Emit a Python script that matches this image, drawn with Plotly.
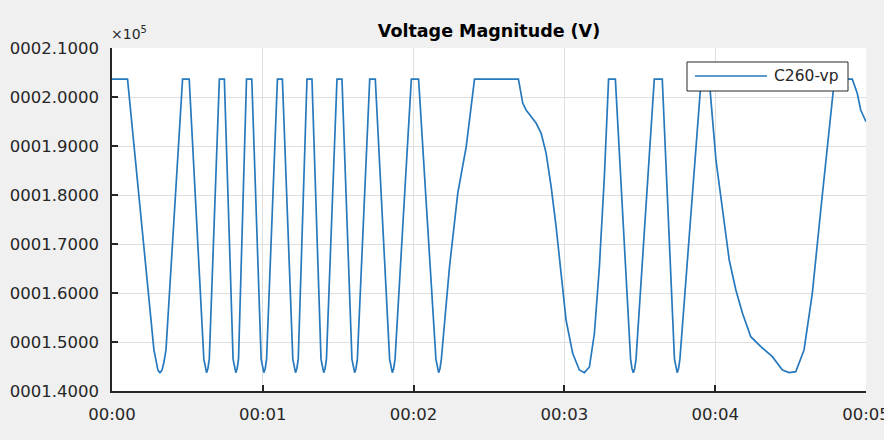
import plotly.graph_objects as go

# ---- data (time in seconds, voltage in V) ----
time_s = [
    0.000, 0.103, 0.278, 0.292, 0.305, 0.318, 0.331, 0.344, 0.358, 0.468, 0.512,
    0.609, 0.618, 0.627, 0.636, 0.645, 0.712, 0.745,
    0.803, 0.812, 0.821, 0.830, 0.839, 0.892, 0.927,
    0.989, 0.998, 1.007, 1.016, 1.025, 1.097, 1.130,
    1.199, 1.208, 1.217, 1.226, 1.235, 1.293, 1.326,
    1.386, 1.395, 1.404, 1.413, 1.422, 1.492, 1.525,
    1.591, 1.600, 1.609, 1.618, 1.627, 1.709, 1.746,
    1.841, 1.850, 1.859, 1.868, 1.877, 1.985, 2.033,
    2.148, 2.157, 2.166, 2.175, 2.184, 2.238, 2.293, 2.349, 2.404, 2.695,
    2.724, 2.746, 2.813, 2.846, 2.879, 2.912, 2.945, 2.978, 3.011, 3.055,
    3.099, 3.132, 3.166, 3.199, 3.232, 3.265, 3.293, 3.338,
    3.439, 3.448, 3.457, 3.466, 3.475, 3.596, 3.649,
    3.730, 3.739, 3.748, 3.757, 3.766, 3.907, 3.960,
    4.005, 4.048, 4.093, 4.137, 4.181, 4.236, 4.303, 4.379, 4.446, 4.490,
    4.534, 4.589, 4.644, 4.700, 4.744, 4.781, 4.791, 4.909, 4.942, 4.965, 5.000,
]
voltage_v = [
    203650, 203650, 148400, 145800, 144200, 143750, 144200, 145800, 148400, 203650, 203650,
    146500, 144600, 143750, 144600, 146500, 203650, 203650,
    146500, 144600, 143750, 144600, 146500, 203650, 203650,
    146500, 144600, 143750, 144600, 146500, 203650, 203650,
    146500, 144600, 143750, 144600, 146500, 203650, 203650,
    146500, 144600, 143750, 144600, 146500, 203650, 203650,
    146500, 144600, 143750, 144600, 146500, 203650, 203650,
    146500, 144600, 143750, 144600, 146500, 203650, 203650,
    146500, 144600, 143750, 144600, 146500, 165300, 180400, 189860, 203650, 203650,
    198710, 197350, 194630, 192590, 188510, 181690, 173530, 164020, 154490, 147690,
    144290, 143750, 144900, 151780, 165370, 183730, 203650, 203650,
    146500, 144600, 143750, 144600, 146500, 203650, 203650,
    146500, 144600, 143750, 144600, 146500, 203650, 203650,
    187140, 176940, 166730, 160610, 155860, 151080, 149040, 147000, 144290, 143750,
    143940, 148370, 159940, 176940, 190550, 201430, 203650, 203650, 200750, 197350, 194960,
]
series_name = "C260-vp"
chart_title = "Voltage Magnitude (V)"

x_tick_vals = [0, 1, 2, 3, 4, 5]
x_tick_text = ["00:00", "00:01", "00:02", "00:03", "00:04", "00:05"]
y_tick_vals = [140000, 150000, 160000, 170000, 180000, 190000, 200000, 210000]
y_tick_text = ["0001.4000", "0001.5000", "0001.6000", "0001.7000",
               "0001.8000", "0001.9000", "0002.0000", "0002.1000"]

# ---- styling ----
FONT = "DejaVu Sans"
LINE_COLOR = "#2679BD"
AX_COLOR = "#262626"
GRID_COLOR = "#DFDFDF"

fig = go.Figure()
fig.add_trace(go.Scatter(
    x=time_s, y=voltage_v, mode="lines", name=series_name,
    line=dict(color=LINE_COLOR, width=1.7), showlegend=False,
))

fig.update_layout(
    width=884, height=440,
    margin=dict(l=112, r=18, t=48, b=49, autoexpand=False),
    paper_bgcolor="#F0F0F0", plot_bgcolor="white",
    font=dict(family=FONT, color=AX_COLOR, size=16),
    title=dict(text="<b>" + chart_title + "</b>", x=0.5, xref="paper",
               y=1 - 31 / 440, yref="container", yanchor="middle",
               xanchor="center", font=dict(size=17.5, color="black", family=FONT)),
    xaxis=dict(range=[0, 5], tickvals=x_tick_vals, ticktext=x_tick_text,
               automargin=False,
               showgrid=True, gridcolor=GRID_COLOR, gridwidth=1, zeroline=False,
               showline=True, linecolor=AX_COLOR, linewidth=1.5,
               ticks="inside", ticklen=6, tickwidth=1.5, tickcolor=AX_COLOR,
               tickfont=dict(size=16.5, color=AX_COLOR), ticklabelstandoff=7,
               ticklabeloverflow="allow"),
    yaxis=dict(range=[140000, 210000], tickvals=y_tick_vals, ticktext=y_tick_text,
               automargin=False,
               showgrid=True, gridcolor=GRID_COLOR, gridwidth=1, zeroline=False,
               showline=True, linecolor=AX_COLOR, linewidth=1.5,
               ticks="inside", ticklen=6, tickwidth=1.5, tickcolor=AX_COLOR,
               tickfont=dict(size=16.5, color=AX_COLOR), ticklabelstandoff=8,
               ticklabeloverflow="allow"),
)

# exponent label
fig.add_annotation(text="×10<sup>5</sup>", xref="paper", yref="paper",
                   x=0.0, y=(391 - 33) / 343, xanchor="left", yanchor="middle",
                   xshift=-3, showarrow=False,
                   font=dict(size=14, color=AX_COLOR, family=FONT))

# legend box (MATLAB style)
lx0, lx1 = (687 - 112) / 754, (848 - 112) / 754
ly0, ly1 = (391 - 91) / 343, (391 - 62) / 343
ly_mid = (391 - 76) / 343
fig.add_shape(type="rect", xref="paper", yref="paper", x0=lx0, x1=lx1, y0=ly0, y1=ly1,
              fillcolor="white", line=dict(color=AX_COLOR, width=1), layer="above")
fig.add_shape(type="line", xref="paper", yref="paper",
              x0=(695 - 112) / 754, x1=(767 - 112) / 754, y0=ly_mid, y1=ly_mid,
              line=dict(color=LINE_COLOR, width=1.7), layer="above")
fig.add_annotation(text=series_name, xref="paper", yref="paper",
                   x=(772 - 112) / 754, y=ly_mid, xanchor="left", yanchor="middle",
                   showarrow=False, font=dict(size=15.5, color=AX_COLOR, family=FONT))

fig.write_html("out.html")
